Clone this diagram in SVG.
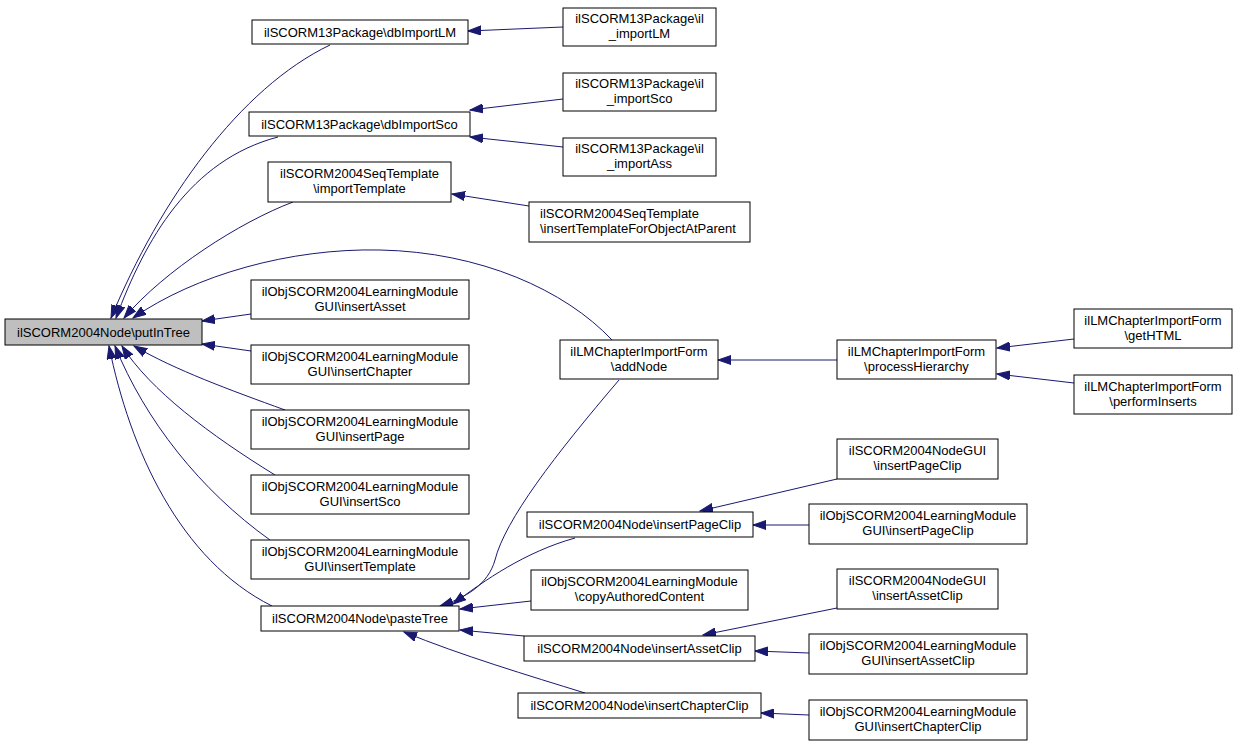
<svg xmlns="http://www.w3.org/2000/svg" width="1239" height="747" viewBox="0 0 1239 747">
<style>
rect.n{fill:#ffffff;stroke:#000000;stroke-width:1}
rect.g{fill:#bfbfbf;stroke:#000000;stroke-width:1}
text{font-family:"Liberation Sans",Arial,sans-serif;font-size:13px;fill:#000000;text-anchor:middle}
text.l{text-anchor:start}
#edges path{fill:none;stroke:#191970;stroke-width:1;marker-end:url(#ah)}
</style>
<defs>
<marker id="ah" markerUnits="userSpaceOnUse" markerWidth="14" markerHeight="10" refX="13" refY="5" orient="auto">
<path d="M0,0.5 L13,5 L0,9.5 z" fill="#191970" stroke="#191970" stroke-width="1"/>
</marker>
</defs>
<rect width="1239" height="747" fill="#ffffff"/>
<g id="edges">
<path d="M330,45 C240,88 160,200 111,318"/>
<path d="M278,137 C190,160 145,240 116,318"/>
<path d="M293,202 C240,222 165,270 124,318"/>
<path d="M612,340 C565,290 480,252 380,250 C290,248 195,275 133,318"/>
<path d="M251,314 L202,321"/>
<path d="M251,351 L202,344"/>
<path d="M285,410 C230,390 175,370 134,346"/>
<path d="M275,475 C210,435 150,390 122,346"/>
<path d="M270,540 C200,490 145,420 115,346"/>
<path d="M272,606 C180,560 130,450 109,346"/>
<path d="M563,27 L468,31"/>
<path d="M563,99 L470,110"/>
<path d="M563,147 L470,137"/>
<path d="M529,206 L452,194"/>
<path d="M837,360 L718,360"/>
<path d="M1074,339 L997,348"/>
<path d="M1074,383 L997,374"/>
<path d="M619,380 C555,455 505,520 495,560 C488,585 465,598 440,606"/>
<path d="M575,538 C525,552 485,580 453,604"/>
<path d="M531,601 L460,609"/>
<path d="M524,636 L460,630"/>
<path d="M585,693 C530,676 460,655 404,632"/>
<path d="M837,479 L700,511"/>
<path d="M809,525 L753,525"/>
<path d="M837,608 L703,635"/>
<path d="M809,653 L755,651"/>
<path d="M809,715 L761,713"/>
</g>
<g id="n0"><rect class="g" x="5" y="319" width="197" height="26"/><text x="103.5" y="336.5">ilSCORM2004Node\putInTree</text></g>
<g id="n1"><rect class="n" x="252" y="20" width="216" height="24"/><text x="360" y="36.5">ilSCORM13Package\dbImportLM</text></g>
<g id="n2"><rect class="n" x="249" y="112" width="221" height="24"/><text x="359.5" y="128.5">ilSCORM13Package\dbImportSco</text></g>
<g id="n3"><rect class="n" x="268" y="162" width="183" height="40"/><text x="359.5" y="178">ilSCORM2004SeqTemplate</text><text x="359.5" y="193">\importTemplate</text></g>
<g id="n4"><rect class="n" x="560" y="340" width="158" height="39"/><text x="639" y="355.5">ilLMChapterImportForm</text><text x="639" y="370.5">\addNode</text></g>
<g id="n5"><rect class="n" x="251" y="280" width="218" height="39"/><text x="360" y="295.5">ilObjSCORM2004LearningModule</text><text x="360" y="310.5">GUI\insertAsset</text></g>
<g id="n6"><rect class="n" x="251" y="345" width="218" height="39"/><text x="360" y="360.5">ilObjSCORM2004LearningModule</text><text x="360" y="375.5">GUI\insertChapter</text></g>
<g id="n7"><rect class="n" x="251" y="410" width="218" height="39"/><text x="360" y="425.5">ilObjSCORM2004LearningModule</text><text x="360" y="440.5">GUI\insertPage</text></g>
<g id="n8"><rect class="n" x="251" y="475" width="218" height="39"/><text x="360" y="490.5">ilObjSCORM2004LearningModule</text><text x="360" y="505.5">GUI\insertSco</text></g>
<g id="n9"><rect class="n" x="251" y="540" width="218" height="39"/><text x="360" y="555.5">ilObjSCORM2004LearningModule</text><text x="360" y="570.5">GUI\insertTemplate</text></g>
<g id="n10"><rect class="n" x="261" y="606" width="198" height="25"/><text x="360" y="623">ilSCORM2004Node\pasteTree</text></g>
<g id="n11"><rect class="n" x="563" y="8" width="153" height="38"/><text x="639.5" y="23">ilSCORM13Package\il</text><text x="639.5" y="38">_importLM</text></g>
<g id="n12"><rect class="n" x="563" y="73" width="153" height="38"/><text x="639.5" y="88">ilSCORM13Package\il</text><text x="639.5" y="103">_importSco</text></g>
<g id="n13"><rect class="n" x="563" y="138" width="153" height="38"/><text x="639.5" y="153">ilSCORM13Package\il</text><text x="639.5" y="168">_importAss</text></g>
<g id="n14"><rect class="n" x="529" y="202" width="221" height="40"/><text class="l" x="540" y="218">ilSCORM2004SeqTemplate</text><text class="l" x="540" y="233">\insertTemplateForObjectAtParent</text></g>
<g id="n15"><rect class="n" x="837" y="340" width="159" height="39"/><text x="916.5" y="355.5">ilLMChapterImportForm</text><text x="916.5" y="370.5">\processHierarchy</text></g>
<g id="n16"><rect class="n" x="1074" y="309" width="158" height="39"/><text x="1153" y="324.5">ilLMChapterImportForm</text><text x="1153" y="339.5">\getHTML</text></g>
<g id="n17"><rect class="n" x="1074" y="375" width="158" height="39"/><text x="1153" y="390.5">ilLMChapterImportForm</text><text x="1153" y="405.5">\performInserts</text></g>
<g id="n18"><rect class="n" x="527" y="512" width="226" height="25"/><text x="640" y="529">ilSCORM2004Node\insertPageClip</text></g>
<g id="n19"><rect class="n" x="531" y="570" width="217" height="40"/><text x="639.5" y="586">ilObjSCORM2004LearningModule</text><text x="639.5" y="601">\copyAuthoredContent</text></g>
<g id="n20"><rect class="n" x="524" y="636" width="231" height="25"/><text x="639.5" y="653">ilSCORM2004Node\insertAssetClip</text></g>
<g id="n21"><rect class="n" x="518" y="693" width="243" height="25"/><text x="639.5" y="710">ilSCORM2004Node\insertChapterClip</text></g>
<g id="n22"><rect class="n" x="837" y="439" width="161" height="40"/><text x="917.5" y="455">ilSCORM2004NodeGUI</text><text x="917.5" y="470">\insertPageClip</text></g>
<g id="n23"><rect class="n" x="809" y="504" width="218" height="40"/><text x="918" y="520">ilObjSCORM2004LearningModule</text><text x="918" y="535">GUI\insertPageClip</text></g>
<g id="n24"><rect class="n" x="837" y="569" width="161" height="40"/><text x="917.5" y="585">ilSCORM2004NodeGUI</text><text x="917.5" y="600">\insertAssetClip</text></g>
<g id="n25"><rect class="n" x="809" y="634" width="218" height="40"/><text x="918" y="650">ilObjSCORM2004LearningModule</text><text x="918" y="665">GUI\insertAssetClip</text></g>
<g id="n26"><rect class="n" x="809" y="700" width="218" height="40"/><text x="918" y="716">ilObjSCORM2004LearningModule</text><text x="918" y="731">GUI\insertChapterClip</text></g>
</svg>
